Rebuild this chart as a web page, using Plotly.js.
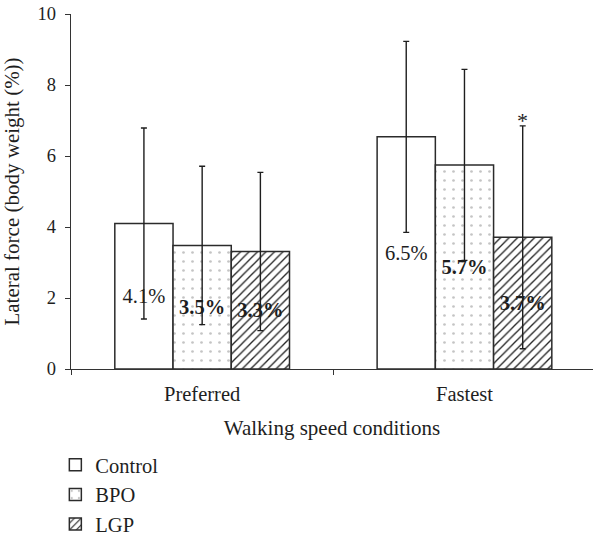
<!DOCTYPE html>
<html>
<head>
<meta charset="utf-8">
<script src="https://cdn.plot.ly/plotly-3.0.1.min.js"></script>
<style>html,body{margin:0;padding:0;background:#fff}#chart{width:593px;height:537px}</style>
</head>
<body>
<div id="chart"></div>
<script>
const categories = ["Preferred", "Fastest"];
const controlValues = [4.1, 6.54];
const controlErr = [2.69, 2.69];
const bpoValues = [3.48, 5.75];
const bpoErr = [2.23, 2.69];
const lgpValues = [3.31, 3.71];
const lgpErr = [2.23, 3.14];
const controlLabels = ["4.1%", "6.5%"];
const bpoLabels = ["3.5%", "5.7%"];
const lgpLabels = ["3.3%", "3.7%"];
const seriesNames = ["Control", "BPO", "LGP"];
const yTicks = [0, 2, 4, 6, 8, 10];

const FONT = "Liberation Serif, Times New Roman, serif";
const INK = "#1e1e1e";

function errBar(arr) {
  return {type: "data", array: arr, visible: true, color: INK, thickness: 1.4, width: 3};
}
const lineStyle = {color: "#2b2b2b", width: 1.5};

const traces = [
  {
    type: "bar", name: seriesNames[0], x: categories, y: controlValues,
    text: controlLabels, textposition: "inside", insidetextanchor: "middle", textangle: 0,
    textfont: {family: FONT, size: 20.5, color: INK},
    marker: {color: "#ffffff", line: lineStyle},
    error_y: errBar(controlErr), hoverinfo: "none"
  },
  {
    type: "bar", name: seriesNames[1], x: categories, y: bpoValues,
    text: bpoLabels, textposition: "inside", insidetextanchor: "middle", textangle: 0,
    textfont: {family: FONT, size: 20.5, color: INK, weight: "bold"},
    marker: {color: "#ffffff", line: lineStyle,
      pattern: {shape: ".", fgcolor: "#c4c4c4", bgcolor: "#ffffff", size: 9, solidity: 0.07}},
    error_y: errBar(bpoErr), hoverinfo: "none"
  },
  {
    type: "bar", name: seriesNames[2], x: categories, y: lgpValues,
    text: lgpLabels, textposition: "inside", insidetextanchor: "middle", textangle: 0,
    textfont: {family: FONT, size: 20.5, color: INK, weight: "bold"},
    marker: {color: "#ffffff", line: lineStyle,
      pattern: {shape: "/", fgcolor: "#222222", bgcolor: "#ffffff", size: 6, solidity: 0.22}},
    error_y: errBar(lgpErr), hoverinfo: "none"
  }
];

const layout = {
  width: 593, height: 537,
  margin: {l: 71, r: 0, t: 14, b: 168, autoexpand: false},
  paper_bgcolor: "#ffffff", plot_bgcolor: "#ffffff",
  font: {family: FONT, size: 20, color: INK},
  barmode: "group", bargap: 0.334, bargroupgap: 0,
  showlegend: true,
  legend: {
    orientation: "v", x: -0.03, xanchor: "left", y: -0.214, yanchor: "top",
    font: {family: FONT, size: 20.5, color: INK}, tracegroupgap: 0,
    bgcolor: "rgba(0,0,0,0)", traceorder: "normal"
  },
  xaxis: {
    type: "category", range: [-0.5, 1.49], automargin: false,
    showline: true, linecolor: "#333", linewidth: 1.3,
    ticks: "outside", tickson: "boundaries", ticklen: 5, tickcolor: "#333",
    ticklabelstandoff: 6,
    showgrid: false, zeroline: false,
    tickfont: {family: FONT, size: 20.5, color: INK},
    title: {text: "Walking speed conditions", font: {family: FONT, size: 21, color: INK}, standoff: 16}
  },
  yaxis: {
    range: [0, 10], tickvals: yTicks, ticktext: yTicks.map(String), automargin: false,
    showline: true, linecolor: "#333", linewidth: 1.3,
    ticks: "outside", ticklen: 5, tickcolor: "#333",
    ticklabelstandoff: 5,
    showgrid: false, zeroline: false,
    tickfont: {family: FONT, size: 18.5, color: INK},
    title: {text: "Lateral force (body weight (%))", font: {family: FONT, size: 21, color: INK}}
  },
  annotations: [
    {
      x: categories[1], y: lgpValues[1] + lgpErr[1], xref: "x", yref: "y",
      text: "*", showarrow: false, xshift: 58, yshift: 5,
      font: {family: FONT, size: 22, color: INK}
    }
  ]
};

Plotly.newPlot("chart", traces, layout, {displayModeBar: false, staticPlot: true});
</script>
</body>
</html>
